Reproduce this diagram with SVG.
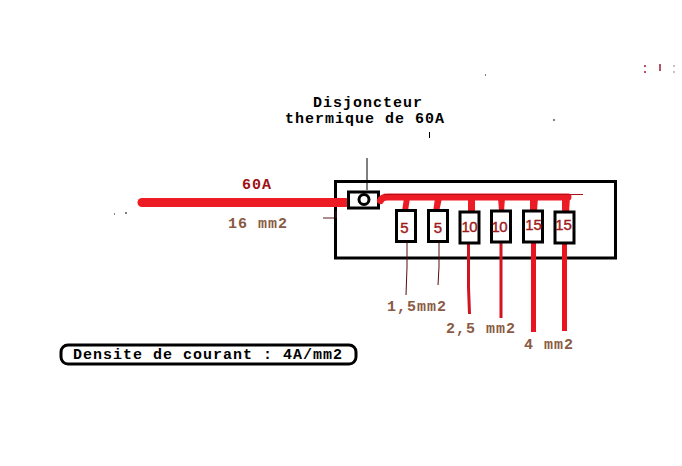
<svg xmlns="http://www.w3.org/2000/svg" width="682" height="466" viewBox="0 0 682 466">
<style>
text{font-family:"Liberation Mono","Courier New",monospace;font-weight:bold;font-size:15px;letter-spacing:1px}
.k{fill:#000}.b{fill:#8a5a44}.d{fill:#a00f14}
.n{font-family:"Liberation Sans",Arial,sans-serif;font-weight:normal;font-size:15px;letter-spacing:0;fill:#a01a1a;stroke:#a01a1a;stroke-width:.4;text-anchor:middle}
.f{fill:#fff;stroke:#000;stroke-width:3}
.w{stroke:#ed1c24;fill:none;stroke-linecap:round}
.t{stroke:#5a0a0a;fill:none;stroke-width:1}
.r{stroke:#d01420;fill:none;stroke-width:3;stroke-linecap:butt}
.h{stroke:#e8141f;fill:none;stroke-width:5;stroke-linecap:butt}
.s{stroke:#ed1c24;fill:none;stroke-width:7;stroke-linecap:butt}
</style>
<rect width="682" height="466" fill="#fff"/>
<g id="enclosure"><rect x="335.500" y="181.500" width="280" height="76.500" fill="#fff" stroke="#000" stroke-width="3"/></g>
<g id="connectors">
<path class="w" stroke-width="9" d="M142 202.500H346"/>
<path d="M323 218H334M336 211V218" stroke="#5a1a1a" stroke-width="1" fill="none"/>
<path d="M367 158V190" stroke="#000" stroke-width="1" fill="none"/>
<path d="M404 198H410L408 211H402ZM435 198H442L439 212H433ZM468 198H475V211H468ZM498 198H505L504 211H499ZM530 198H538L537 211H530Z" fill="#ed1c24"/>
<path d="M562 197H570L569 213H562Z" fill="#ed1c24"/>
<path class="t" d="M407 243V267L406 295M439 243V267L438 285"/>
<path class="r" d="M468.500 243V287L469.500 314M501 243V318"/>
<path class="h" d="M533.500 243V332M564.500 244V331"/>
<path d="M429.500 132V138" stroke="#000" stroke-width="1"/>
</g>
<g id="breaker"><rect x="348.500" y="192" width="30" height="16" fill="#fff" stroke="#000" stroke-width="3"/><circle cx="364" cy="199.500" r="5" fill="#fff" stroke="#000" stroke-width="3"/></g>
<g id="bus">
<path class="w" stroke-width="7" d="M380.500 200.500Q382 197 388 197H568"/>
<path d="M384 194.500H583" stroke="#b01018" stroke-width="1" fill="none"/>
</g>
<g id="fuse-1"><rect class="f" x="396.500" y="210.500" width="19" height="31"/><text class="n" x="404.500" y="233">5</text></g>
<g id="fuse-2"><rect class="f" x="428.500" y="210.500" width="19" height="31"/><text class="n" x="438" y="233">5</text></g>
<g id="fuse-3"><rect class="f" x="460" y="212" width="19" height="31"/><text class="n" x="469.500" y="232" textLength="16">10</text></g>
<g id="fuse-4"><rect class="f" x="491.500" y="211" width="19" height="31"/><text class="n" x="499.500" y="232" textLength="16">10</text></g>
<g id="fuse-5"><rect class="f" x="523.500" y="211" width="19" height="31"/><text class="n" x="533.500" y="230">15</text></g>
<g id="fuse-6"><rect class="f" x="555" y="212" width="19" height="31"/><text class="n" x="563.500" y="230">15</text></g>
<g id="labels">
<text class="k" x="313" y="107">Disjoncteur</text>
<text class="k" x="285" y="123">thermique de 60A</text>
<text class="d" x="242" y="189">60A</text>
<text class="b" x="228" y="228">16 mm2</text>
<text class="b" x="387" y="311">1,5mm2</text>
<text class="b" x="446" y="333">2,5 mm2</text>
<text class="b" x="524" y="349">4 mm2</text>
</g>
<g id="density-note"><rect x="61" y="345" width="295" height="19" rx="7" fill="#fff" stroke="#000" stroke-width="3"/><text class="k" x="73" y="359">Densite de courant : 4A/mm2</text></g>
<g id="specks">
<path d="M485 75h1M554 119v2M114 214h1M125 213h2" stroke="#000" stroke-width="1"/>
<path d="M645 65v2M645 71v2M660 64v7" stroke="#a01a30" stroke-width="1.500"/>
<path d="M674 65v2M674 71v2" stroke="#888" stroke-width="1"/>
</g>
</svg>
